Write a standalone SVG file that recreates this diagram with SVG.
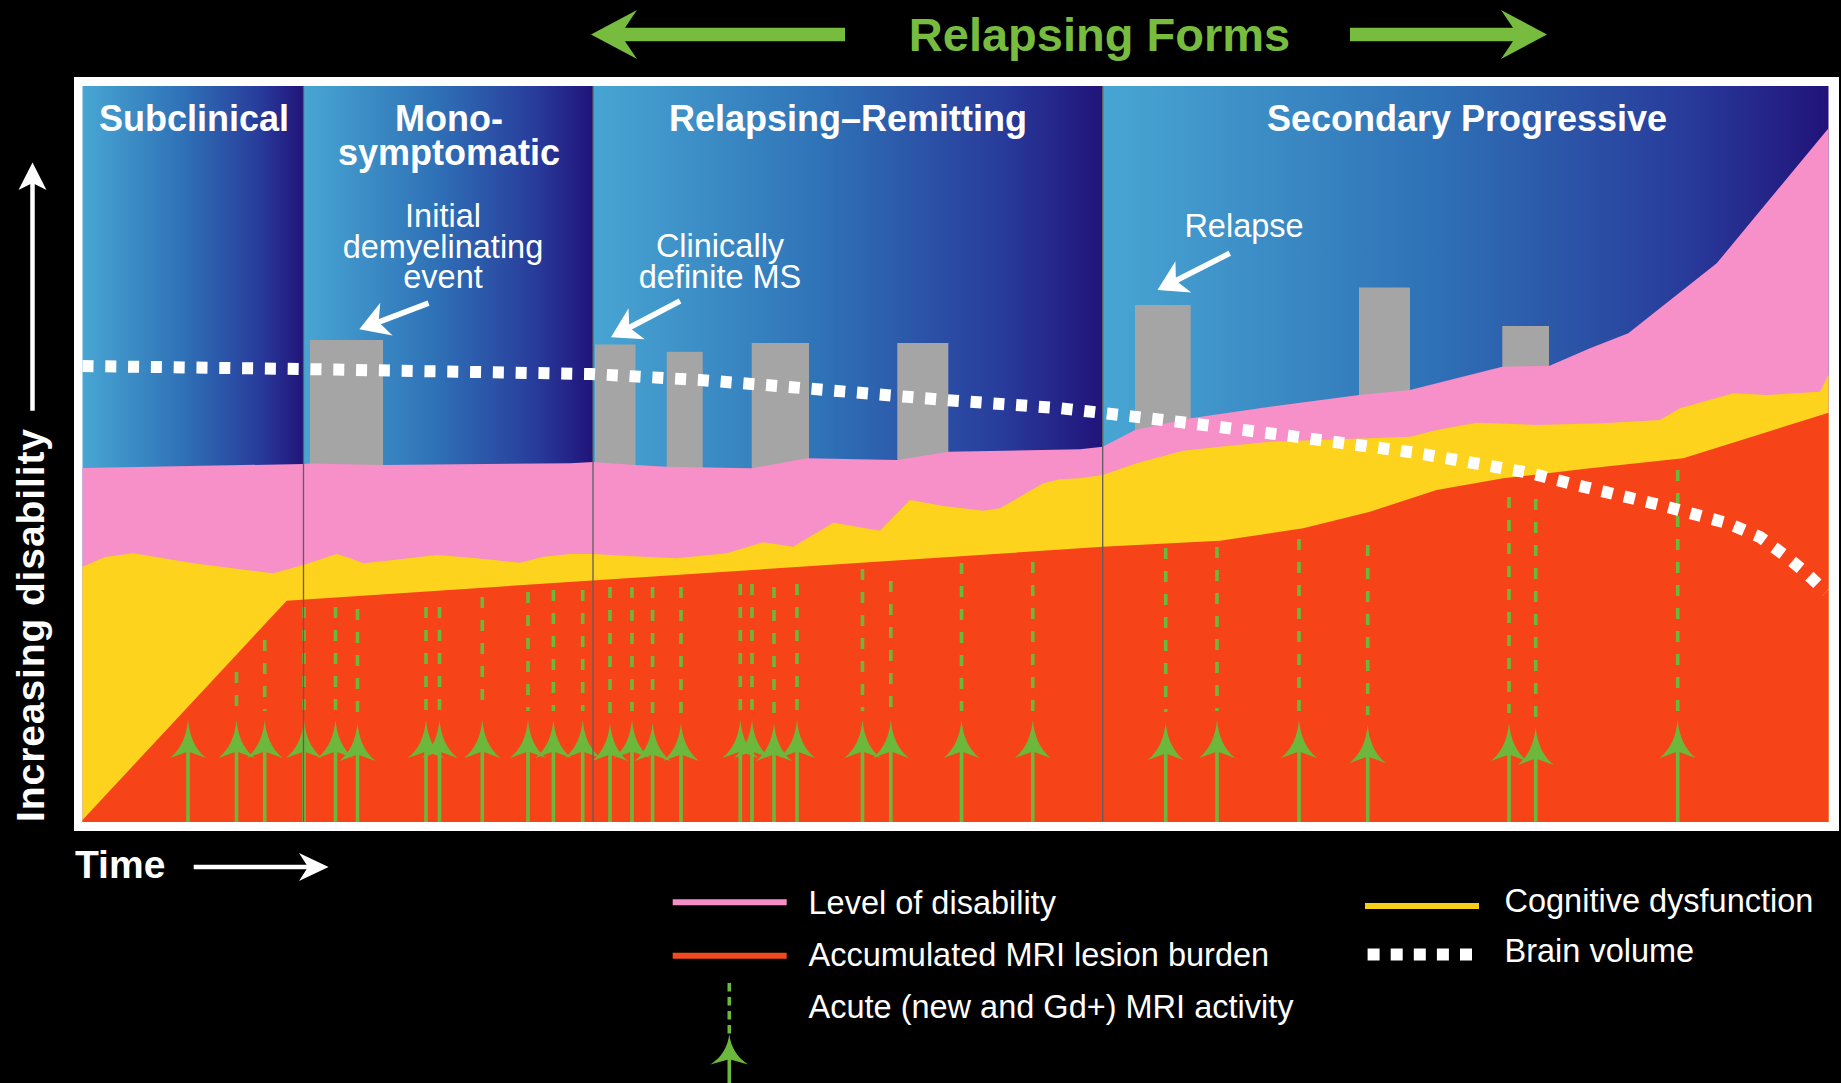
<svg xmlns="http://www.w3.org/2000/svg" xmlns:xlink="http://www.w3.org/1999/xlink" width="1841" height="1083" viewBox="0 0 1841 1083">
<defs>
<style>
.hd{font-family:"Liberation Sans",Arial,sans-serif;font-weight:bold;font-size:36px;fill:#fff;text-anchor:middle}
.an{font-family:"Liberation Sans",Arial,sans-serif;font-size:32.5px;fill:#fff;text-anchor:middle}
.lg{font-family:"Liberation Sans",Arial,sans-serif;font-size:32.5px;fill:#fff}
.ttl{font-family:"Liberation Sans",Arial,sans-serif;font-weight:bold;font-size:47px;fill:#77bc3f;text-anchor:middle}
.ax{font-family:"Liberation Sans",Arial,sans-serif;font-weight:bold;font-size:39px;fill:#fff}
.bar{fill:#a5a5a5}
.div{stroke:#5e5e5e;stroke-width:1.3;fill:none}
.dash{stroke:#6cb83d;stroke-width:3.6;stroke-dasharray:11 12;fill:none}
.sol{stroke:#6cb83d;stroke-width:3.6;fill:none}
.ah{fill:#6cb83d}
.bv{stroke:#fff;stroke-width:12;stroke-dasharray:11 11.8;fill:none}
.wa{fill:#fff}
</style>
<linearGradient id="col" x1="0" y1="0" x2="1" y2="0">
<stop offset="0" stop-color="#48a6d3"/>
<stop offset="0.45" stop-color="#2f72b7"/>
<stop offset="0.8" stop-color="#283c9b"/>
<stop offset="1" stop-color="#21137a"/>
</linearGradient>
<path id="gah" d="M0,0 C1.5,16 7,29 18,38 L0,31.5 L-18,38 C-7,29 -1.5,16 0,0 Z"/>
</defs>
<rect x="0" y="0" width="1841" height="1083" fill="#000"/>

<g id="title">
<path fill="#77bc3f" d="M591,34.5 L637,10 L625,27.8 L845,27.8 L845,41.2 L625,41.2 L637,59 Z"/>
<path fill="#77bc3f" d="M1547,34.5 L1501,10 L1513,27.8 L1350,27.8 L1350,41.2 L1513,41.2 L1501,59 Z"/>
<text class="ttl" x="1099.5" y="51">Relapsing Forms</text>
</g>

<g id="frame">
<rect x="74" y="77" width="1765" height="754" fill="#fff"/>
</g>

<g id="phases">
<rect x="82.5" y="86" width="221" height="736" fill="url(#col)"/>
<rect x="303.5" y="86" width="289.5" height="736" fill="url(#col)"/>
<rect x="593" y="86" width="509.7" height="736" fill="url(#col)"/>
<rect x="1102.7" y="86" width="725.8" height="736" fill="url(#col)"/>
</g>

<g id="relapses">
<rect class="bar" x="310" y="340" width="73" height="150"/>
<rect class="bar" x="595" y="344.5" width="40.5" height="150"/>
<rect class="bar" x="666.7" y="351.8" width="36" height="150"/>
<rect class="bar" x="751.7" y="343" width="57.3" height="150"/>
<rect class="bar" x="897.3" y="343" width="51" height="150"/>
<rect class="bar" x="1135" y="305" width="55.7" height="150"/>
<rect class="bar" x="1359" y="287.5" width="51" height="150"/>
<rect class="bar" x="1502.3" y="326" width="46.7" height="100"/>
</g>

<g id="disability">
<polygon fill="#f78fc8" points="82.5,468 303.5,464 310,463.5 383,465 570,463.3 593,462 635,465 666.7,466.7 751.7,468.3 806.7,458.3 897.3,460 948.3,451.7 1080,449.3 1102.7,446.7 1135,430 1190.7,418.3 1270,406.7 1359,395 1410,390 1502.3,366.7 1549,366 1590,348.3 1628.3,333.3 1716.7,263.3 1828.5,128.3 1828.5,822 82.5,822"/>
</g>

<g id="cognitive">
<polygon fill="#fdd31d" points="82.5,566.7 105,557 133.3,553.3 193.3,563.3 273.3,573.3 303.3,565 336.7,554 350,558.3 363.3,563.3 393.3,560 436.7,555 476.7,558.3 520,562.7 543.3,556.7 570,554 593.3,554 643.3,556.7 676.7,558.3 726.7,553.3 763.3,542.3 793.3,546.7 833.3,522.7 880,530.7 910,500 943.3,506 983.3,510.7 1000,508.3 1043.3,483.3 1060,479.3 1080,478.3 1102.7,475 1136.7,463.3 1183.3,450.7 1220,446.7 1270,441.7 1410,436.7 1436.7,430 1476.7,422.7 1536.7,425 1603.3,423.3 1660,420 1680,408.3 1733.3,393.3 1766.7,395 1820,391.7 1828.5,375 1828.5,822 82.5,822"/>
</g>

<g id="lesions">
<polygon fill="#f64418" points="82.5,822 82.5,820 286.7,600.7 1080,548.3 1102.7,546.7 1220,540.7 1303.3,528.3 1370,511.7 1436.7,490 1503.3,478.3 1590,468.3 1683.3,458.3 1828.5,412.7 1828.5,822"/>
</g>

<g id="connectors">
<g id="mri-activity">
<path class="sol" d="M188,745V822"/><use href="#gah" x="188" y="720" class="ah"/>
<path class="dash" d="M236.5,672V711"/><path class="sol" d="M236.5,745V822"/><use href="#gah" x="236.5" y="720" class="ah"/>
<path class="dash" d="M264.7,640V711"/><path class="sol" d="M264.7,745V822"/><use href="#gah" x="264.7" y="720" class="ah"/>
<path class="dash" d="M304,607V711"/><path class="sol" d="M304,745V822"/><use href="#gah" x="304" y="720" class="ah"/>
<path class="dash" d="M335.5,607V711"/><path class="sol" d="M335.5,745V822"/><use href="#gah" x="335.5" y="720" class="ah"/>
<path class="dash" d="M357.5,609V713"/><path class="sol" d="M357.5,748V822"/><use href="#gah" x="357.5" y="723" class="ah"/>
<path class="dash" d="M426,607V711"/><path class="sol" d="M426,745V822"/><use href="#gah" x="426" y="720" class="ah"/>
<path class="dash" d="M439.5,607V711"/><path class="sol" d="M439.5,745V822"/><use href="#gah" x="439.5" y="720" class="ah"/>
<path class="dash" d="M482.3,597V711"/><path class="sol" d="M482.3,745V822"/><use href="#gah" x="482.3" y="720" class="ah"/>
<path class="dash" d="M528,592V711"/><path class="sol" d="M528,745V822"/><use href="#gah" x="528" y="720" class="ah"/>
<path class="dash" d="M553.4,590V711"/><path class="sol" d="M553.4,745V822"/><use href="#gah" x="553.4" y="720" class="ah"/>
<path class="dash" d="M582.7,590V711"/><path class="sol" d="M582.7,745V822"/><use href="#gah" x="582.7" y="720" class="ah"/>
<path class="dash" d="M610,587V713"/><path class="sol" d="M610,748V822"/><use href="#gah" x="610" y="723" class="ah"/>
<path class="dash" d="M632,587V711"/><path class="sol" d="M632,745V822"/><use href="#gah" x="632" y="720" class="ah"/>
<path class="dash" d="M652.6,587V713"/><path class="sol" d="M652.6,748V822"/><use href="#gah" x="652.6" y="723" class="ah"/>
<path class="dash" d="M681,587V713"/><path class="sol" d="M681,748V822"/><use href="#gah" x="681" y="723" class="ah"/>
<path class="dash" d="M740.3,584V711"/><path class="sol" d="M740.3,745V822"/><use href="#gah" x="740.3" y="720" class="ah"/>
<path class="dash" d="M752,584V711"/><path class="sol" d="M752,745V822"/><use href="#gah" x="752" y="720" class="ah"/>
<path class="dash" d="M774,587V713"/><path class="sol" d="M774,748V822"/><use href="#gah" x="774" y="723" class="ah"/>
<path class="dash" d="M797,584V711"/><path class="sol" d="M797,745V822"/><use href="#gah" x="797" y="720" class="ah"/>
<path class="dash" d="M862.5,569V711"/><path class="sol" d="M862.5,745V822"/><use href="#gah" x="862.5" y="720" class="ah"/>
<path class="dash" d="M890.8,581V711"/><path class="sol" d="M890.8,745V822"/><use href="#gah" x="890.8" y="720" class="ah"/>
<path class="dash" d="M961.5,563V711"/><path class="sol" d="M961.5,745V822"/><use href="#gah" x="961.5" y="720" class="ah"/>
<path class="dash" d="M1032.8,562V711"/><path class="sol" d="M1032.8,745V822"/><use href="#gah" x="1032.8" y="720" class="ah"/>
<path class="dash" d="M1165.7,548V712"/><path class="sol" d="M1165.7,747V822"/><use href="#gah" x="1165.7" y="722" class="ah"/>
<path class="dash" d="M1217,547V711"/><path class="sol" d="M1217,745V822"/><use href="#gah" x="1217" y="720" class="ah"/>
<path class="dash" d="M1299,539V711"/><path class="sol" d="M1299,745V822"/><use href="#gah" x="1299" y="720" class="ah"/>
<path class="dash" d="M1367.7,545V715"/><path class="sol" d="M1367.7,750V822"/><use href="#gah" x="1367.7" y="725" class="ah"/>
<path class="dash" d="M1509,497V713"/><path class="sol" d="M1509,748V822"/><use href="#gah" x="1509" y="723" class="ah"/>
<path class="dash" d="M1535.7,499V717"/><path class="sol" d="M1535.7,752V822"/><use href="#gah" x="1535.7" y="727" class="ah"/>
<path class="dash" d="M1677.7,470V711"/><path class="sol" d="M1677.7,745V822"/><use href="#gah" x="1677.7" y="720" class="ah"/>
</g>
<g id="dividers">
<path class="div" d="M303.5,86V822"/>
<path class="div" d="M593,86V822"/>
<path class="div" d="M1102.7,86V822"/>
</g>
<g id="brain-volume">
<polyline class="bv" points="82.5,366 300,369 591,374 700,380 765,385 850,392 945,400 1058,408 1103,413 1180,422 1283,435 1417,453 1530,473 1576,485 1660,505 1727,523 1760,537 1787,557 1805,572 1826,592"/>
</g>
<g id="annotation-arrows">
<path class="wa" transform="translate(359.3,329.3) rotate(159.35)" d="M0,0 L-29,-17.5 L-22,-2.8 L-74,-2.8 L-74,2.8 L-22,2.8 L-29,17.5 Z"/>
<path class="wa" transform="translate(611,337.3) rotate(152.3)" d="M0,0 L-29,-17.5 L-22,-2.8 L-78,-2.8 L-78,2.8 L-22,2.8 L-29,17.5 Z"/>
<path class="wa" transform="translate(1157.5,290) rotate(153.1)" d="M0,0 L-29,-17.5 L-22,-2.8 L-81,-2.8 L-81,2.8 L-22,2.8 L-29,17.5 Z"/>
</g>
</g>

<g id="phase-labels">
<text class="hd" x="194" y="131">Subclinical</text>
<text class="hd" x="449" y="131">Mono-</text>
<text class="hd" x="449" y="165">symptomatic</text>
<text class="hd" x="848" y="131">Relapsing–Remitting</text>
<text class="hd" x="1467" y="131">Secondary Progressive</text>
</g>

<g id="annotations">
<text class="an" x="443" y="227">Initial</text>
<text class="an" x="443" y="258">demyelinating</text>
<text class="an" x="443" y="288">event</text>
<text class="an" x="720" y="257">Clinically</text>
<text class="an" x="720" y="288">definite MS</text>
<text class="an" x="1244" y="237">Relapse</text>
</g>

<g id="axes">
<path d="M32.5,410.7V183" stroke="#fff" stroke-width="4.5" fill="none"/>
<path d="M32.5,162.5 L46.5,190 L32.5,183 L18.5,190 Z" fill="#fff"/>
<text class="ax" transform="translate(44,625) rotate(-90)" text-anchor="middle" letter-spacing="0.9">Increasing disability</text>
<text class="ax" x="75" y="878">Time</text>
<path d="M193.7,867H312" stroke="#fff" stroke-width="4.6" fill="none"/>
<path d="M328.6,867 L299,853 L308,867 L299,881 Z" fill="#fff"/>
</g>

<g id="legend">
<path d="M672.7,902.3H786.7" stroke="#f58fc8" stroke-width="6"/>
<text class="lg" x="808.5" y="913.5">Level of disability</text>
<path d="M672.7,955.7H786.7" stroke="#f24a1e" stroke-width="6"/>
<text class="lg" x="808.5" y="966">Accumulated MRI lesion burden</text>
<path d="M729.3,983V1035" stroke="#6cb83d" stroke-width="3.6" stroke-dasharray="8.5 5.5" fill="none"/>
<path d="M729.3,1055V1083" stroke="#6cb83d" stroke-width="3.6" fill="none"/>
<use href="#gah" transform="translate(729.3,1034) scale(1.05,0.8)" class="ah"/>
<text class="lg" x="808.5" y="1018">Acute (new and Gd+) MRI activity</text>
<path d="M1365,906H1479" stroke="#f7cf17" stroke-width="6"/>
<text class="lg" x="1504.5" y="912">Cognitive dysfunction</text>
<path d="M1367.6,954.5H1472" stroke="#fff" stroke-width="12" stroke-dasharray="12 11.1"/>
<text class="lg" x="1504.5" y="962">Brain volume</text>
</g>
</svg>
